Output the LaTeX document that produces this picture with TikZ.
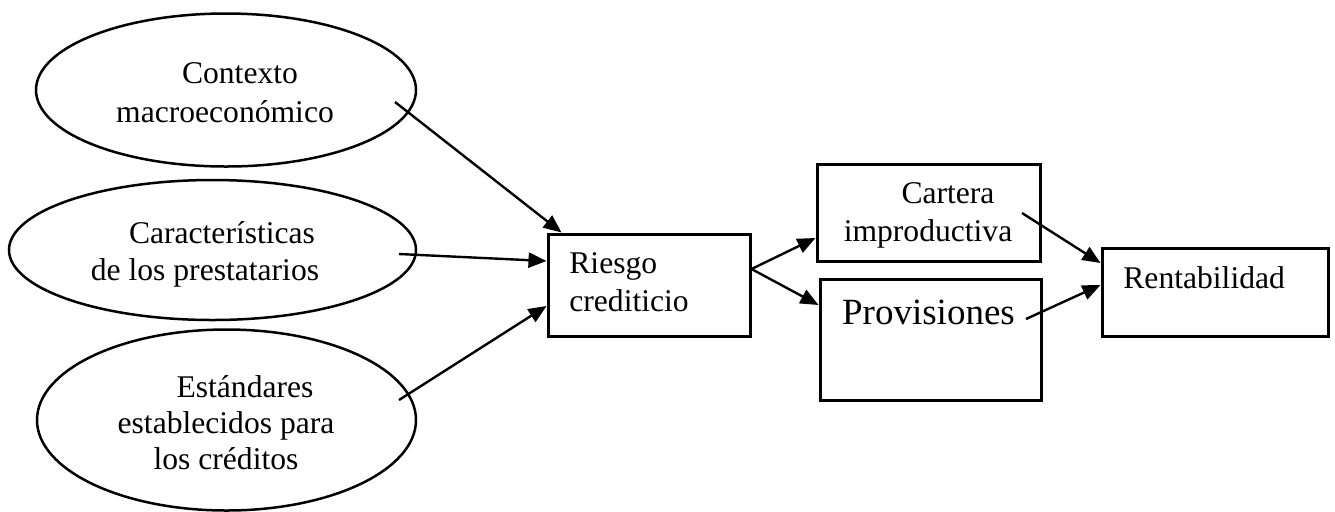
\documentclass[tikz,border=0pt]{standalone}
\usepackage{fontspec}
\setmainfont{Liberation Serif}
\usetikzlibrary{arrows.meta,shapes.geometric}
\begin{document}
\begin{tikzpicture}[x=0.5pt,y=-0.5pt,
  oval/.style={ellipse,draw,line width=1.25pt,inner sep=0pt},
  boxnode/.style={rectangle,draw,line width=1.5pt,inner sep=0pt},
  lbl/.style={inner sep=0pt,font=\fontsize{15.8}{19.5}\selectfont},
  arr/.style={line width=1.2pt,-{Triangle[length=9pt,width=7.5pt]}}]
\useasboundingbox (0,0) rectangle (1335,511);
% ellipses
\node[oval,minimum width=190pt,minimum height=76.5pt] (e1) at (226,90) {};
\node[oval,minimum width=203.5pt,minimum height=70pt] (e2) at (212.5,250) {};
\node[oval,minimum width=189.5pt,minimum height=90.5pt] (e3) at (226.5,420) {};
% boxes
\node[boxnode,minimum width=101pt,minimum height=51pt] (r) at (649,285) {};
\node[boxnode,minimum width=111.5pt,minimum height=48.5pt] (c) at (928.5,212.5) {};
\node[boxnode,minimum width=110.5pt,minimum height=60.5pt] (p) at (930.5,339.5) {};
\node[boxnode,minimum width=113pt,minimum height=44pt] (rent) at (1215,292) {};
% texts
\node[lbl,anchor=base] (t1a) at (240,83) {Contexto};
\node[lbl,anchor=base] (t1b) at (225,122) {macroeconómico};
\node[lbl,anchor=base] (t2a) at (222,243) {Características};
\node[lbl,anchor=base] (t2b) at (205,280) {de los prestatarios};
\node[lbl,anchor=base] (t3a) at (245,397) {Estándares};
\node[lbl,anchor=base] (t3b) at (226,433) {establecidos para};
\node[lbl,anchor=base] (t3c) at (226,469) {los créditos};
\node[lbl,anchor=base west] (tra) at (569,273) {Riesgo};
\node[lbl,anchor=base west] (trb) at (569,311) {crediticio};
\node[lbl,anchor=base] (tca) at (948,203) {Cartera};
\node[lbl,anchor=base] (tcb) at (928,241) {improductiva};
\node[lbl,anchor=base,font=\fontsize{18.5}{22}\selectfont] (tp) at (928.5,324) {Provisiones};
\node[lbl,anchor=base west] (tre) at (1123,288) {Rentabilidad};
% connector start points
\coordinate (s1) at (395,102);
\coordinate (s2) at (399,254);
\coordinate (s3) at (399,400);
\coordinate (sc) at (1022,213);
\coordinate (sp) at (1026,319);
% connectors
\draw[arr] (s1) -- ([xshift=7.5pt]r.north west);
\draw[arr] (s2) -- ([yshift=12pt]r.west);
\draw[arr] (s3) -- ([yshift=-10.5pt]r.west);
\draw[arr] ([yshift=8pt]r.east) -- ([yshift=-12.75pt]c.west);
\draw[arr] ([yshift=8pt]r.east) -- ([yshift=17.25pt]p.west);
\draw[arr] (sc) -- ([yshift=14.5pt]rent.west);
\draw[arr] (sp) -- ([yshift=3.5pt]rent.west);
\end{tikzpicture}
\end{document}
